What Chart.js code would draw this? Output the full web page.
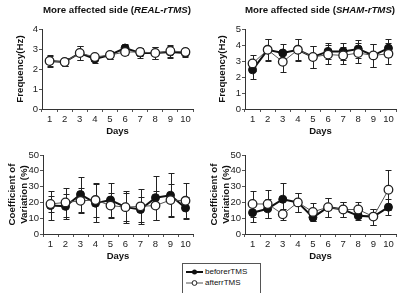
<!DOCTYPE html>
<html>
<head>
<meta charset="utf-8">
<script src="https://cdn.jsdelivr.net/npm/chart.js@4.4.1/dist/chart.umd.min.js"></script>
<style>
  html, body { margin: 0; padding: 0; background: #fff; }
  body { width: 404px; height: 293px; position: relative; overflow: hidden; font-family: "Liberation Sans", Arial, sans-serif; }
  canvas.panel { position: absolute; }
  #legend { position: absolute; left: 182px; top: 263px; width: 79px; height: 34px; border: 1px solid #555; box-sizing: border-box; background: #fff; }
  #legend .row { position: absolute; left: 2px; height: 10px; font-size: 8px; line-height: 10px; color: #111; white-space: nowrap; }
  #legend svg { position: absolute; left: 0; top: 0; }
  #legend span { position: absolute; left: 20px; top: 0; }
</style>
</head>
<body>
<canvas id="c1" class="panel" width="202" height="140" style="left:0;top:0"></canvas>
<canvas id="c2" class="panel" width="202" height="140" style="left:202px;top:0"></canvas>
<canvas id="c3" class="panel" width="202" height="125" style="left:0;top:140px"></canvas>
<canvas id="c4" class="panel" width="202" height="125" style="left:202px;top:140px"></canvas>
<div id="legend">
  <div class="row" style="top:3px">
    <svg width="20" height="10"><line x1="1" y1="5" x2="18" y2="5" stroke="#111" stroke-width="2"/><circle cx="9.5" cy="5" r="2.5" fill="#111"/></svg>
    <span>beforerTMS</span>
  </div>
  <div class="row" style="top:14px">
    <svg width="20" height="10"><line x1="1" y1="5" x2="18" y2="5" stroke="#555" stroke-width="1"/><circle cx="9.5" cy="5" r="2.4" fill="#fff" stroke="#222" stroke-width="1"/></svg>
    <span>afterrTMS</span>
  </div>
</div>
<script>
const days = ['1', '2', '3', '4', '5', '6', '7', '8', '9', '10'];

// frequency (Hz), REAL-rTMS
const realFreqBefore = [2.4, 2.35, 2.8, 2.5, 2.7, 3.05, 2.8, 2.8, 2.85, 2.8];
const realFreqAfter = [2.4, 2.35, 2.8, 2.6, 2.7, 2.85, 2.85, 2.8, 2.9, 2.85];
const realFreqBeforeSD = [0.3, 0.2, 0.35, 0.2, 0.2, 0.2, 0.25, 0.3, 0.3, 0.2];
const realFreqAfterSD = [0.25, 0.2, 0.35, 0.15, 0.2, 0.15, 0.2, 0.3, 0.3, 0.2];

// frequency (Hz), SHAM-rTMS
const shamFreqBefore = [2.45, 3.7, 3.5, 3.7, 3.25, 3.6, 3.6, 3.75, 3.35, 3.8];
const shamFreqAfter = [2.85, 3.7, 2.95, 3.7, 3.25, 3.4, 3.35, 3.5, 3.35, 3.45];
const shamFreqBeforeSD = [0.6, 0.65, 0.55, 0.7, 0.7, 0.5, 0.55, 0.55, 0.7, 0.55];
const shamFreqAfterSD = [0.5, 0.7, 0.65, 0.65, 0.7, 0.6, 0.55, 0.6, 0.7, 0.65];

// coefficient of variation (%), REAL-rTMS
const realCvBefore = [18, 17.5, 25, 19.5, 21.5, 17, 15.5, 23, 24.5, 16.5];
const realCvAfter = [19, 20, 21, 21.5, 18, 17, 17.5, 18, 21.5, 21];
const realCvBeforeSD = [9, 8, 11, 12, 11, 9, 8, 14, 14, 7];
const realCvAfterSD = [5, 9, 8, 11, 8, 10, 11, 9, 10, 11];

// coefficient of variation (%), SHAM-rTMS
const shamCvBefore = [13.5, 16, 22, 20, 10.5, 17, 15.5, 11.5, 11, 17];
const shamCvAfter = [19, 19, 12.5, 20, 14, 17, 15.5, 15.5, 11, 28];
const shamCvBeforeSD = [6, 6, 10.5, 6, 2, 6, 4.5, 2.5, 5, 5];
const shamCvAfterSD = [8, 9, 3.5, 6, 5.5, 6, 4.5, 4.5, 5, 12.5];

Chart.defaults.font.family = '"Liberation Sans", Arial, sans-serif';
Chart.defaults.color = '#222';

const errorBars = {
    id: 'errorBars',
    beforeDatasetsDraw(chart) {
        const ctx = chart.ctx;
        const yScale = chart.scales.y;
        ctx.save();
        ctx.strokeStyle = '#222';
        ctx.lineWidth = 1;
        chart.data.datasets.forEach((ds, di) => {
            const meta = chart.getDatasetMeta(di);
            (ds.errors || []).forEach((err, i) => {
                const pt = meta.data[i];
                if (!pt) return;
                const x = Math.round(pt.x) + 0.5;
                const yTop = Math.round(yScale.getPixelForValue(ds.data[i] + err)) + 0.5;
                const yBot = Math.round(yScale.getPixelForValue(ds.data[i] - err)) + 0.5;
                ctx.beginPath();
                ctx.moveTo(x, yTop); ctx.lineTo(x, yBot);
                ctx.moveTo(x - 3, yTop); ctx.lineTo(x + 3, yTop);
                ctx.moveTo(x - 3, yBot); ctx.lineTo(x + 3, yBot);
                ctx.stroke();
            });
        });
        ctx.restore();
    }
};

const panelTitle = {
    id: 'panelTitle',
    afterDraw(chart, args, opts) {
        if (!opts || !opts.italic) return;
        const ctx = chart.ctx;
        const parts = [['More affected side (', ''], [opts.italic, 'italic '], [')', '']];
        const size = 9.7;
        ctx.save();
        ctx.fillStyle = '#111';
        ctx.textBaseline = 'middle';
        let total = 0;
        parts.forEach(p => {
            ctx.font = `${p[1]}bold ${size}px "Liberation Sans", Arial, sans-serif`;
            total += ctx.measureText(p[0]).width;
        });
        let x = opts.cx - total / 2;
        parts.forEach(p => {
            ctx.font = `${p[1]}bold ${size}px "Liberation Sans", Arial, sans-serif`;
            ctx.fillText(p[0], x, opts.cy);
            x += ctx.measureText(p[0]).width;
        });
        ctx.restore();
    }
};

function buildPanel(id, cfg) {
    return new Chart(document.getElementById(id), {
        type: 'line',
        data: {
            labels: days,
            datasets: [
                {
                    label: 'beforerTMS', data: cfg.before, errors: cfg.beforeSD, order: 1,
                    borderColor: '#111', borderWidth: 2, pointRadius: 4,
                    pointBackgroundColor: '#111', pointBorderColor: '#111', pointBorderWidth: 1
                },
                {
                    label: 'afterrTMS', data: cfg.after, errors: cfg.afterSD, order: 0,
                    borderColor: '#555', borderWidth: 1, pointRadius: 4.3,
                    pointBackgroundColor: '#fff', pointBorderColor: '#222', pointBorderWidth: 1.3
                }
            ]
        },
        options: {
            responsive: false,
            animation: false,
            layout: { padding: { top: cfg.padTop, right: cfg.padRight, left: 0, bottom: 0 } },
            plugins: {
                legend: { display: false },
                tooltip: { enabled: false },
                panelTitle: cfg.title || false
            },
            scales: {
                x: {
                    offset: true,
                    grid: { offset: true, drawOnChartArea: false, tickLength: 3, color: '#555' },
                    border: { color: '#333' },
                    ticks: { padding: 2, font: { size: 9.5 }, color: '#222', maxRotation: 0, autoSkip: false },
                    title: { display: true, text: 'Days', color: '#111', font: { size: 9.5, weight: 'bold' }, padding: { top: 0, bottom: 2.5 } },
                    afterFit: s => { s.height = cfg.xHeight; }
                },
                y: {
                    min: 0, max: cfg.yMax,
                    ticks: { stepSize: cfg.yStep, padding: 1, font: { size: 9.5 }, color: '#222' },
                    grid: { drawOnChartArea: false, tickLength: 3, color: '#555' },
                    border: { color: '#333' },
                    title: { display: true, text: cfg.yTitle, color: '#111', font: { size: 9.7, weight: 'bold', lineHeight: 1.25 }, padding: { top: cfg.yTitlePad, bottom: 0 } },
                    afterFit: s => { s.width = cfg.yWidth; }
                }
            }
        },
        plugins: [errorBars, panelTitle]
    });
}

buildPanel('c1', {
    before: realFreqBefore, after: realFreqAfter, beforeSD: realFreqBeforeSD, afterSD: realFreqAfterSD,
    padTop: 29, padRight: 9, xHeight: 31, yWidth: 42, yMax: 4, yStep: 1,
    yTitle: 'Frequency(Hz)', yTitlePad: 14,
    title: { italic: 'REAL-rTMS', cx: 117, cy: 10 }
});
buildPanel('c2', {
    before: shamFreqBefore, after: shamFreqAfter, beforeSD: shamFreqBeforeSD, afterSD: shamFreqAfterSD,
    padTop: 29, padRight: 8, xHeight: 31, yWidth: 43, yMax: 5, yStep: 1,
    yTitle: 'Frequency(Hz)', yTitlePad: 14,
    title: { italic: 'SHAM-rTMS', cx: 118, cy: 10 }
});
buildPanel('c3', {
    before: realCvBefore, after: realCvAfter, beforeSD: realCvBeforeSD, afterSD: realCvAfterSD,
    padTop: 15, padRight: 9, xHeight: 31, yWidth: 43, yMax: 50, yStep: 10,
    yTitle: ['Coefficient of', 'Variation (%)'], yTitlePad: 6
});
buildPanel('c4', {
    before: shamCvBefore, after: shamCvAfter, beforeSD: shamCvBeforeSD, afterSD: shamCvAfterSD,
    padTop: 15, padRight: 8, xHeight: 31, yWidth: 43, yMax: 50, yStep: 10,
    yTitle: ['Coefficient of', 'Variation (%)'], yTitlePad: 6
});
</script>
</body>
</html>
